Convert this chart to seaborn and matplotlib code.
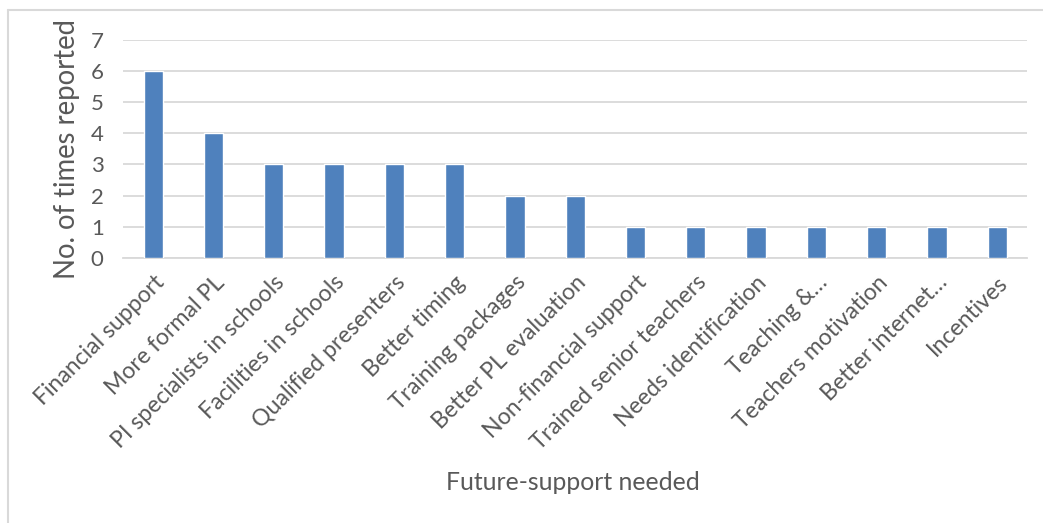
import matplotlib
matplotlib.use("Agg")
import matplotlib.pyplot as plt
from matplotlib.lines import Line2D
import seaborn as sns
import pandas as pd

categories = [
    "Financial support", "More formal PL", "PI specialists in schools",
    "Facilities in schools", "Qualified presenters", "Better timing",
    "Training packages", "Better PL evaluation", "Non-financial support",
    "Trained senior teachers", "Needs identification", "Teaching &\u2026",
    "Teachers motivation", "Better internet\u2026", "Incentives",
]
counts = [6, 4, 3, 3, 3, 3, 2, 2, 1, 1, 1, 1, 1, 1, 1]
y_ticks = [0, 1, 2, 3, 4, 5, 6, 7]

df = pd.DataFrame({"support": categories, "count": counts})

sns.set_theme(style="white")
plt.rcParams["font.family"] = ["Lato", "DejaVu Sans"]

text_color = "#595959"
grid_color = "#D9D9D9"
bar_color = "#4F81BD"

W, H = 1043, 523
fig = plt.figure(figsize=(W / 100, H / 100), dpi=100)
ax = fig.add_axes([0.118, 0.507, 0.867, 0.4165])

sns.barplot(data=df, x="support", y="count", color=bar_color,
            width=0.32, saturation=1, ax=ax, zorder=3)

ax.set_ylim(0, 7)
ax.set_xlim(-0.5, len(categories) - 0.5)
ax.set_yticks(y_ticks)
ax.yaxis.grid(True, color=grid_color, linewidth=1.3, zorder=0)
ax.set_axisbelow(True)
for side in ["top", "right", "left"]:
    ax.spines[side].set_visible(False)
ax.spines["bottom"].set_color(grid_color)
ax.spines["bottom"].set_linewidth(1.3)

ax.tick_params(axis="both", length=0, colors=text_color, labelsize=16)
ax.tick_params(axis="y", pad=14)
ax.set_xticks(range(len(categories)))
ax.set_xticklabels(categories, rotation=45, ha="right",
                   rotation_mode="anchor", color=text_color, fontsize=16.6)
ax.tick_params(axis="x", pad=10)

ax.set_ylabel("No. of times reported", fontsize=19.8, color=text_color, labelpad=8)
ax.set_xlabel("")
fig.text(0.549, 1 - 482 / H, "Future-support needed", ha="center", va="center",
         fontsize=17.8, color=text_color)

# light frame around the chart area (top and left edges)
frame_kw = dict(transform=fig.transFigure, color=grid_color, linewidth=1.5)
fig.lines.append(Line2D([8 / W, 1], [1 - 10 / H, 1 - 10 / H], **frame_kw))
fig.lines.append(Line2D([8 / W, 8 / W], [1 - 10 / H, 0], **frame_kw))

fig.savefig("out.png", dpi=100, facecolor="white")
